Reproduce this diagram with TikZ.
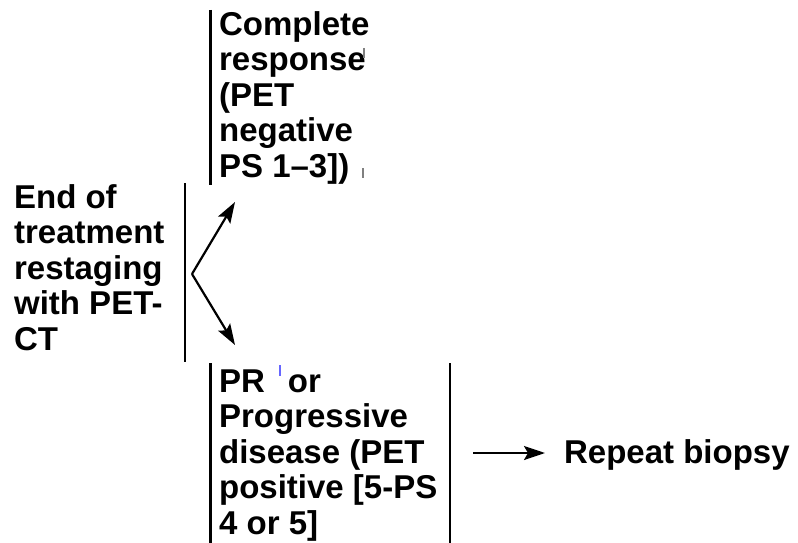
\documentclass[tikz,border=0pt]{standalone}
\usepackage{fontspec}
\setmainfont{Liberation Sans}
\usetikzlibrary{arrows.meta}

\tikzset{
  flowtext/.style={anchor=base west,inner sep=0pt,align=left,font=\fontsize{33}{35.5}\selectfont\bfseries},
  flowarrow/.style={-{Stealth[length=21pt,width=14pt,inset=4pt]}}
}

\begin{document}
\begin{tikzpicture}[x=1pt,y=1pt,yscale=-1,xscale=1,line width=2.2pt]
	\useasboundingbox (0,0) rectangle (798,543);

	% Text Node (anchored at last baseline)
	\node (restage) at (13,350) [flowtext] {End of\\treatment\\restaging\\with PET-\\CT};
	% Text Node
	\node (complete) at (218,177) [flowtext] {Complete\\response\\(PET\\negative\\PS 1--3])};
	% Text Node
	\node (partial) at (218,534) [flowtext] {PR\hspace{23pt}or\\Progressive\\disease (PET\\positive [5-PS\\4 or 5]};
	% Text Node
	\node (biopsy) at (563,463) [flowtext] {Repeat biopsy};

	%Straight Lines
	\draw    (185,183) -- (185,362) ;
	%Straight Lines
	\draw    (210.5,10) -- (210.5,185) ;
	%Straight Lines
	\draw    (210.5,363) -- (210.5,543) ;
	%Straight Lines
	\draw    (450,363) -- (450,543) ;

	%Small marks
	\draw [line width=1.2pt,gray]  (364,48) -- (364,58) ;
	\draw [line width=1.2pt,gray]  (363,168) -- (363,178) ;
	\draw [line width=1.2pt,blue!60]  (280,365) -- (280,376) ;

	\coordinate (fork) at (192,274);
	\coordinate (upend) at (235,202);
	\coordinate (downend) at (235,345);
	\coordinate (biostart) at (473,453);
	\coordinate (biotip) at (545,453);
	%Arrows
	\draw [flowarrow]  (fork) -- (upend) ;
	\draw [flowarrow]  (fork) -- (downend) ;
	\draw [flowarrow]  (biostart) -- (biotip) ;
\end{tikzpicture}
\end{document}
